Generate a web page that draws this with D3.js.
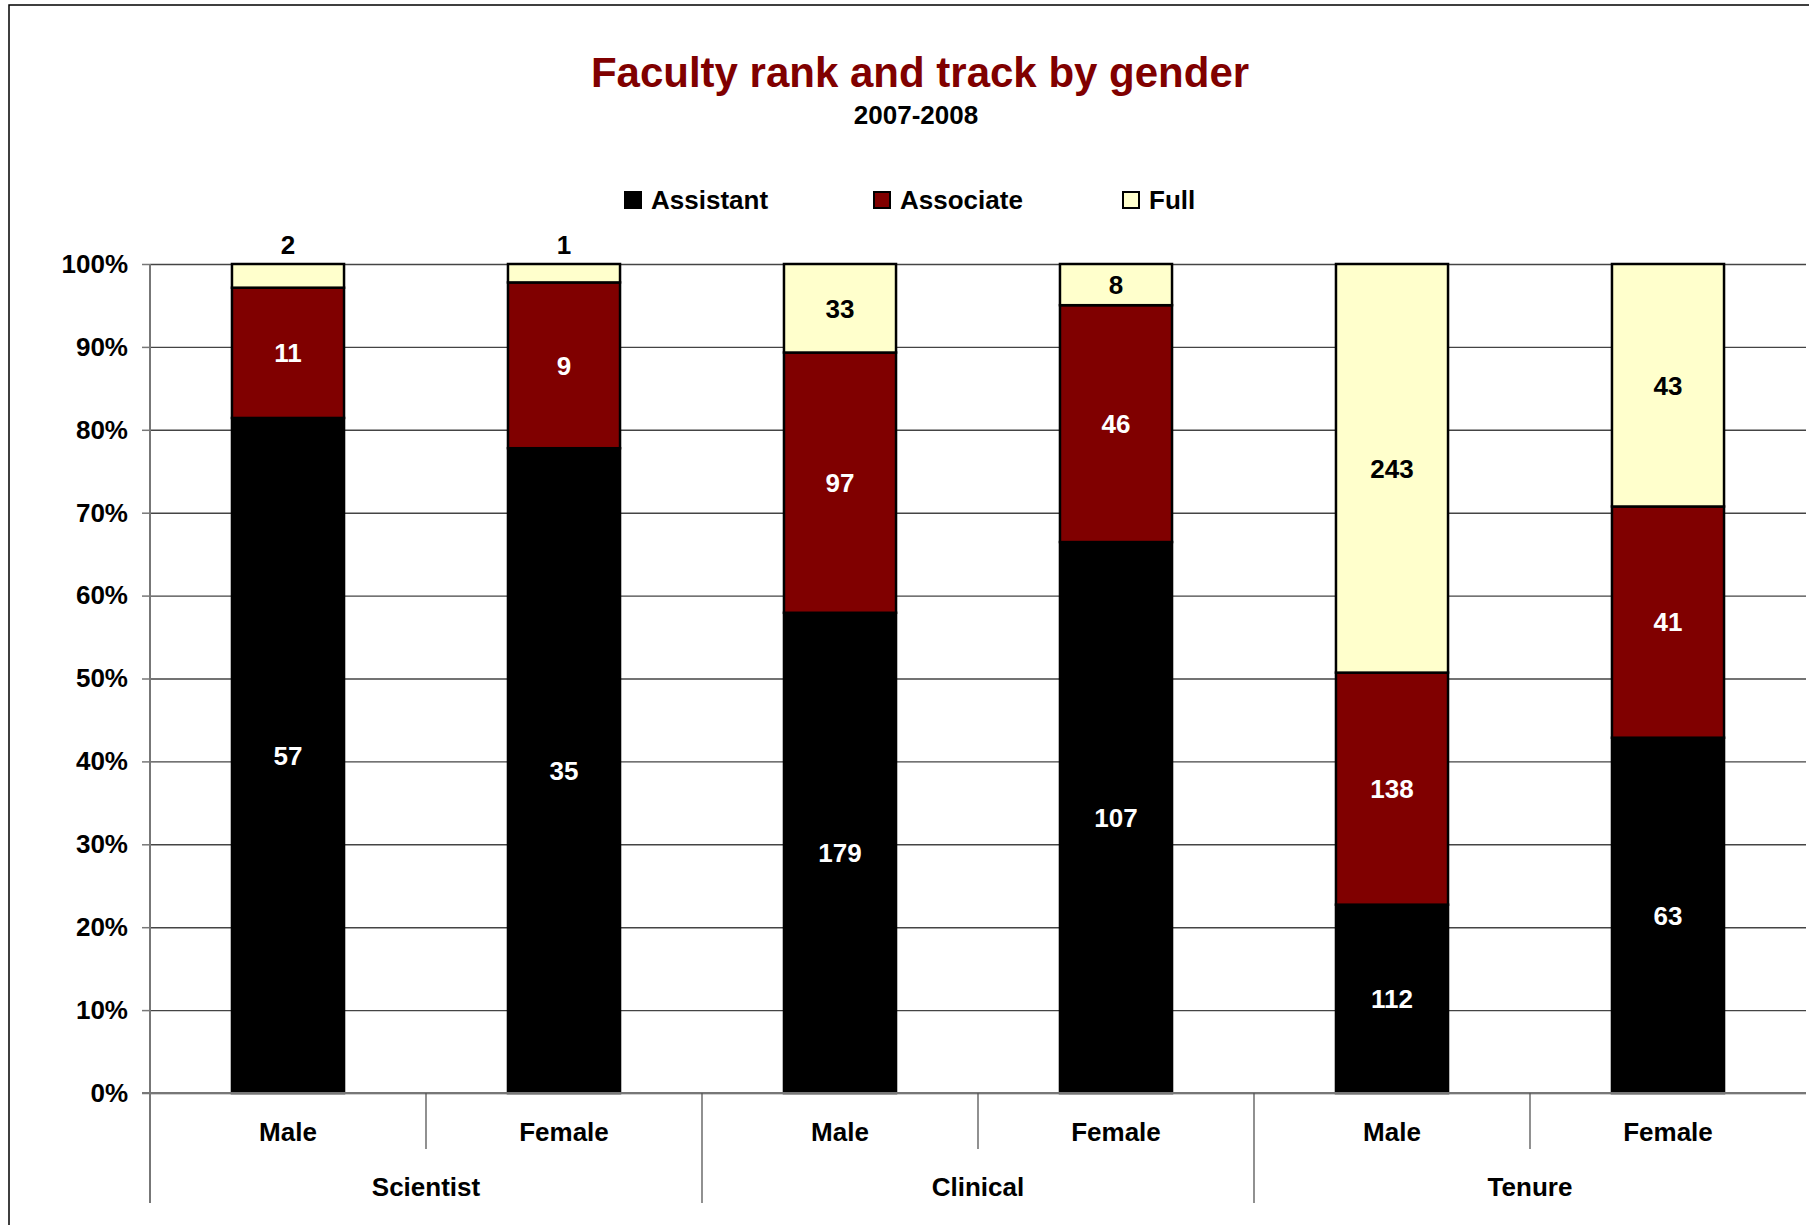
<!DOCTYPE html>
<html>
<head>
<meta charset="utf-8">
<script src="https://cdn.jsdelivr.net/npm/d3@7"></script>
<style>
  html, body { margin: 0; padding: 0; background: #fff; }
  text { font-family: Arial, "Liberation Sans", sans-serif; font-weight: bold; }
</style>
</head>
<body>
<svg id="chart" width="1809" height="1225"></svg>
<script>
// data (counts per rank)
var groups = ["Scientist", "Clinical", "Tenure"];
var genders = ["Male", "Female"];
var ranks = ["Assistant", "Associate", "Full"];
var assistant = [57, 35, 179, 107, 112, 63];
var associate = [11, 9, 97, 46, 138, 41];
var full = [2, 1, 33, 8, 243, 43];
var yTickValues = [0, 0.1, 0.2, 0.3, 0.4, 0.5, 0.6, 0.7, 0.8, 0.9, 1];

var colors = {"Assistant": "#000000", "Associate": "#800000", "Full": "#FFFFCC"};
var labelColors = {"Assistant": "#fff", "Associate": "#fff", "Full": "#000"};

var svg = d3.select("#chart"),
    width = +svg.attr("width"),
    height = +svg.attr("height");

var plotLeft = 150, plotRight = 1806, plotTop = 264, plotBottom = 1093;

// chart frame
svg.append("rect")
    .attr("x", 9).attr("y", 5)
    .attr("width", width + 20).attr("height", height + 20)
    .attr("fill", "none").attr("stroke", "#000").attr("stroke-width", 1.5);

var rows = [];
for (var i = 0; i < assistant.length; i++) {
    rows.push({
        key: groups[Math.floor(i / 2)] + "|" + genders[i % 2],
        gender: genders[i % 2],
        Assistant: assistant[i],
        Associate: associate[i],
        Full: full[i]
    });
}

var x = d3.scaleBand()
    .domain(rows.map(function(d) { return d.key; }))
    .range([plotLeft, plotRight])
    .paddingInner(0.594)
    .paddingOuter(0.297);

var xGroup = d3.scaleBand().domain(groups).range([plotLeft, plotRight]);

var y = d3.scaleLinear().domain([0, 1]).range([plotBottom, plotTop]);

// gridlines
svg.append("g")
    .attr("transform", "translate(" + plotLeft + ",0)")
    .call(d3.axisLeft(y).tickValues(yTickValues).tickSize(-(plotRight - plotLeft)).tickFormat(""))
    .call(function(g) {
        g.select(".domain").remove();
        g.selectAll(".tick line").attr("stroke", "#444").attr("stroke-width", 1.4);
    });

// y axis
svg.append("g")
    .attr("transform", "translate(" + plotLeft + ",0)")
    .call(d3.axisLeft(y).tickValues(yTickValues).tickSize(8).tickPadding(14).tickFormat(d3.format(".0%")))
    .call(function(g) {
        g.select(".domain").remove();
        g.selectAll(".tick line").attr("stroke", "#777").attr("stroke-width", 1.5);
        g.selectAll(".tick text").attr("font-size", "26px").attr("fill", "#000")
            .attr("font-family", "Arial, 'Liberation Sans', sans-serif");
    });

var stack = d3.stack().keys(ranks).offset(d3.stackOffsetExpand);
var series = stack(rows);

var bw = x.bandwidth();

var layer = svg.selectAll("g.layer")
    .data(series)
    .enter().append("g")
    .attr("class", "layer")
    .attr("fill", function(d) { return colors[d.key]; });

layer.selectAll("rect")
    .data(function(d) { return d; })
    .enter().append("rect")
    .attr("x", function(d) { return x(d.data.key); })
    .attr("y", function(d) { return y(d[1]); })
    .attr("width", bw)
    .attr("height", function(d) { return y(d[0]) - y(d[1]); })
    .attr("stroke", "#000")
    .attr("stroke-width", 2.5);

// value labels, small segments get their label above the bar
series.forEach(function(s) {
    svg.append("g").selectAll("text")
        .data(s)
        .enter().append("text")
        .attr("x", function(d) { return x(d.data.key) + bw / 2; })
        .attr("y", function(d) {
            var h = y(d[0]) - y(d[1]);
            if (h < 30) return y(d[1]) - 19;
            return (y(d[0]) + y(d[1])) / 2;
        })
        .attr("dy", "0.36em")
        .attr("text-anchor", "middle")
        .attr("font-size", "26px")
        .attr("fill", function(d) {
            var h = y(d[0]) - y(d[1]);
            return h < 30 ? "#000" : labelColors[s.key];
        })
        .text(function(d) { return d.data[s.key]; });
});

// x axis baseline
svg.append("line")
    .attr("x1", plotLeft - 8).attr("x2", plotRight)
    .attr("y1", y(0)).attr("y2", y(0))
    .attr("stroke", "#777").attr("stroke-width", 2);

// y axis line, continues down as the first divider
svg.append("line")
    .attr("x1", plotLeft).attr("x2", plotLeft)
    .attr("y1", plotTop).attr("y2", 1203)
    .attr("stroke", "#777").attr("stroke-width", 2);

// dividers between categories
rows.forEach(function(d, i) {
    if (i === 0) return;
    var xx = x(d.key) - (x.step() - bw) / 2;
    svg.append("line")
        .attr("x1", xx).attr("x2", xx)
        .attr("y1", plotBottom).attr("y2", i % 2 === 0 ? 1203 : 1149)
        .attr("stroke", "#555").attr("stroke-width", 1.3);
});

// category labels
svg.append("g").selectAll("text")
    .data(rows)
    .enter().append("text")
    .attr("x", function(d) { return x(d.key) + bw / 2; })
    .attr("y", 1132)
    .attr("dy", "0.36em")
    .attr("text-anchor", "middle")
    .attr("font-size", "26px")
    .text(function(d) { return d.gender; });

svg.append("g").selectAll("text")
    .data(groups)
    .enter().append("text")
    .attr("x", function(d) { return xGroup(d) + xGroup.bandwidth() / 2; })
    .attr("y", 1187)
    .attr("dy", "0.36em")
    .attr("text-anchor", "middle")
    .attr("font-size", "26px")
    .text(function(d) { return d; });

// title
svg.append("text")
    .attr("x", 920).attr("y", 87)
    .attr("text-anchor", "middle")
    .attr("font-size", "42px")
    .attr("fill", "#800000")
    .text("Faculty rank and track by gender");

svg.append("text")
    .attr("x", 916).attr("y", 124)
    .attr("text-anchor", "middle")
    .attr("font-size", "26px")
    .text("2007-2008");

// legend
var legend = svg.append("g").selectAll("g")
    .data(ranks)
    .enter().append("g")
    .attr("transform", function(d, i) { return "translate(" + (625 + i * 249) + ",192)"; });

legend.append("rect")
    .attr("width", 16).attr("height", 16)
    .attr("fill", function(d) { return colors[d]; })
    .attr("stroke", "#000").attr("stroke-width", 2);

legend.append("text")
    .attr("x", 26).attr("y", 8)
    .attr("dy", "0.36em")
    .attr("font-size", "26px")
    .text(function(d) { return d; });
</script>
</body>
</html>
